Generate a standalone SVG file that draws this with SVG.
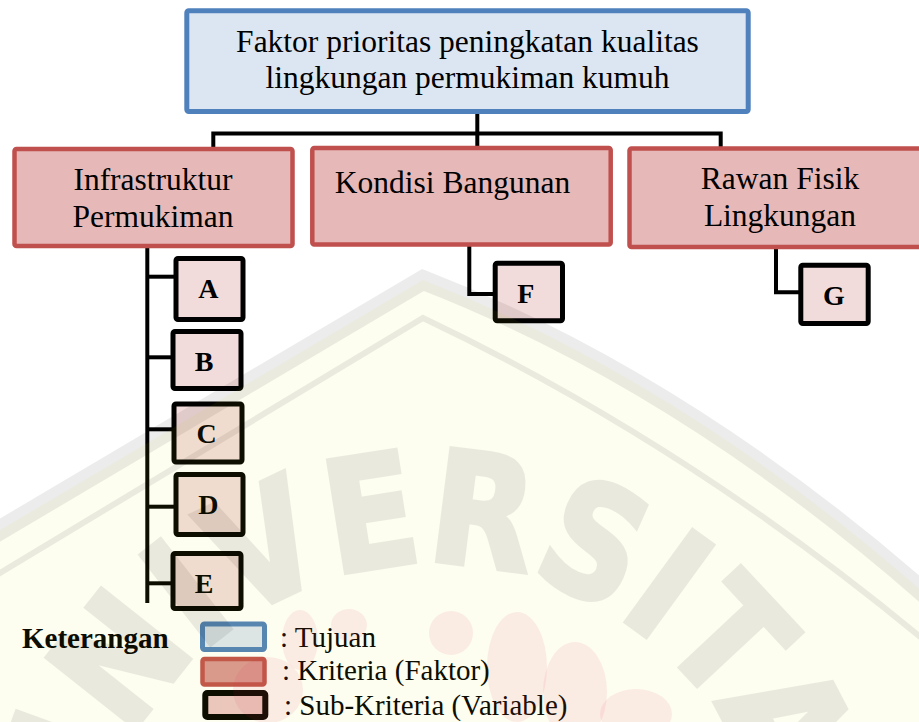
<svg xmlns="http://www.w3.org/2000/svg" width="919" height="722" viewBox="0 0 919 722">
  <defs>
    <style>
      .t { font-family: "Liberation Serif", "Times New Roman", serif; font-size: 31.5px; fill: #000; text-anchor: middle; }
      .sub { font-family: "Liberation Serif", "Times New Roman", serif; font-size: 28px; font-weight: bold; fill: #000; text-anchor: middle; }
      .leg { font-family: "Liberation Serif", "Times New Roman", serif; font-size: 29px; fill: #000; }
      .goal { fill: #DCE6F2; stroke: #4F81BD; stroke-width: 5; }
      .crit { fill: #E6B9B8; stroke: #C0504D; stroke-width: 4.5; }
      .var { fill: #F2DCDB; stroke: #000; stroke-width: 5; }
      .conn { fill: none; stroke: #000; stroke-width: 4; }
      .wm { font-family: "DejaVu Sans", "Liberation Sans", sans-serif; font-weight: bold; font-size: 155px; fill: #000; stroke: #000; stroke-width: 5; opacity: 0.075; text-anchor: middle; }
      .wmline { fill: none; stroke: #000; stroke-opacity: 0.075; }
    </style>
    <path id="wmArc" d="M88,908 A345,345 0 0 1 778,908"/>
  </defs>
  <rect width="919" height="722" fill="#FFFFFF"/>

  <g id="connectors">
    <path class="conn" d="M213.3,148 V133.5 H720.7 V148"/>
    <path class="conn" d="M477.3,113 V147"/>
    <path class="conn" stroke-width="3.5" d="M147.3,247 V603"/>
    <path class="conn" stroke-width="3.5" d="M147.3,276.7 H176"/>
    <path class="conn" stroke-width="3.5" d="M147.3,357.3 H173"/>
    <path class="conn" stroke-width="3.5" d="M147.3,429.3 H174"/>
    <path class="conn" stroke-width="3.5" d="M147.3,506.7 H176"/>
    <path class="conn" stroke-width="3.5" d="M147.3,583.3 H173"/>
    <path class="conn" stroke-width="3.5" d="M469.3,246 V294 H495"/>
    <path class="conn" stroke-width="3.5" d="M776,247 V292.3 H801"/>
  </g>

  <g id="goal">
    <rect class="goal" x="186.8" y="10.8" width="561.4" height="100.7" rx="2"/>
    <text class="t" x="467.5" y="52">Faktor prioritas peningkatan kualitas</text>
    <text class="t" x="467.5" y="88">lingkungan permukiman kumuh</text>
  </g>

  <g id="infrastruktur">
    <rect class="crit" x="14.5" y="149" width="278" height="97" rx="2"/>
    <text class="t" x="153" y="190">Infrastruktur</text>
    <text class="t" x="153" y="226.7">Permukiman</text>
  </g>
  <g id="kondisi">
    <rect class="crit" x="312.3" y="148" width="298.4" height="96.5" rx="2"/>
    <text class="t" x="452.5" y="193.3">Kondisi Bangunan</text>
  </g>
  <g id="rawan">
    <rect class="crit" x="629.5" y="148.5" width="300" height="98.5" rx="2"/>
    <text class="t" x="780" y="189.3">Rawan Fisik</text>
    <text class="t" x="780" y="226">Lingkungan</text>
  </g>

  <g id="var-A">
    <rect class="var" x="176" y="258.5" width="67" height="61" rx="2"/>
    <text class="sub" x="208.3" y="298">A</text>
  </g>
  <g id="var-B">
    <rect class="var" x="173" y="331.5" width="68" height="57" rx="2"/>
    <text class="sub" x="204" y="370.7">B</text>
  </g>
  <g id="var-C">
    <rect class="var" x="174" y="404" width="68" height="58" rx="2"/>
    <text class="sub" x="206.7" y="443.3">C</text>
  </g>
  <g id="var-D">
    <rect class="var" x="176" y="474.5" width="67" height="60" rx="2"/>
    <text class="sub" x="208.3" y="514">D</text>
  </g>
  <g id="var-E">
    <rect class="var" x="173" y="553.5" width="68" height="55" rx="2"/>
    <text class="sub" x="204" y="593.3">E</text>
  </g>
  <g id="var-F">
    <rect class="var" x="495.2" y="263.2" width="67.3" height="57.6" rx="2"/>
    <text class="sub" x="525.7" y="303.3">F</text>
  </g>
  <g id="var-G">
    <rect class="var" x="800.8" y="265.2" width="67.4" height="58.3" rx="2"/>
    <text class="sub" x="834" y="305">G</text>
  </g>

  <g id="legend">
    <text class="leg" x="22" y="648.3" font-weight="bold">Keterangan</text>
    <rect class="goal" x="202.5" y="624" width="62" height="25.5" rx="2"/>
    <text class="leg" x="280" y="646.5">: Tujuan</text>
    <rect class="crit" x="202.5" y="659" width="62" height="25.5" rx="2" style="fill:#D99694"/>
    <text class="leg" x="282" y="679.5">: Kriteria (Faktor)</text>
    <rect class="var" x="205.3" y="693" width="60" height="24" rx="2" style="fill:#EBC6C6;stroke-width:6"/>
    <text class="leg" x="284" y="714.5">: Sub-Kriteria (Variable)</text>
  </g>

  <g id="watermark" pointer-events="none">
    <path d="M-10,536 L423,280 Q683,381 930,598 L930,730 L-10,730 Z" fill="#DDDD00" fill-opacity="0.06"/>
    <path class="wmline" stroke-width="20" d="M-10,536 L423,280 Q683,381 930,598"/>
    <path class="wmline" stroke-width="6" d="M-10,579 L423,318 Q690,445 930,645"/>
    <g fill="#E0204A" fill-opacity="0.08">
      <ellipse cx="451" cy="633" rx="22" ry="22"/>
      <ellipse cx="517" cy="667" rx="30" ry="55"/>
      <ellipse cx="575" cy="692" rx="32" ry="50"/>
      <ellipse cx="636" cy="714" rx="36" ry="25"/>
      <ellipse cx="268" cy="690" rx="35" ry="33"/>
      <ellipse cx="300" cy="640" rx="18" ry="30"/>
      <ellipse cx="349" cy="625" rx="18" ry="16"/>
    </g>
    <text class="wm" textLength="1000" lengthAdjust="spacingAndGlyphs"><textPath href="#wmArc" startOffset="566">UNIVERSITAS</textPath></text>
  </g>
</svg>
